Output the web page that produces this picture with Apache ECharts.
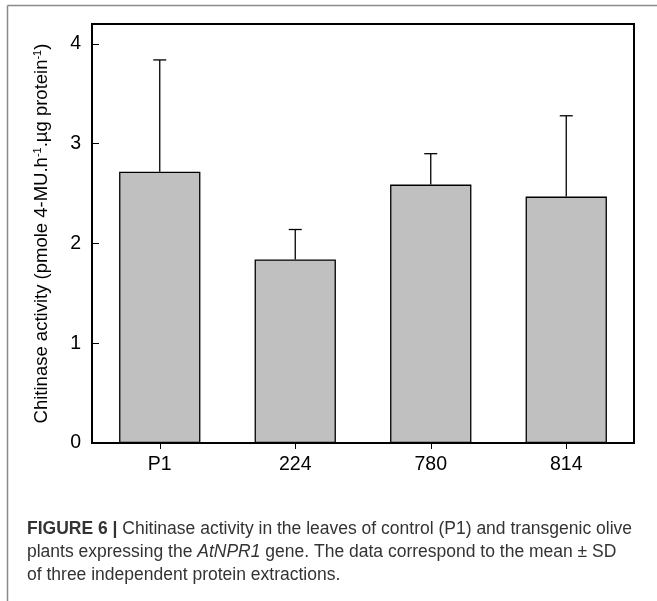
<!DOCTYPE html>
<html>
<head>
<meta charset="utf-8">
<script src="https://cdn.jsdelivr.net/npm/echarts@6/dist/echarts.min.js"></script>
<style>
html,body{margin:0;padding:0;background:#fff;}
#c{width:657px;height:601px;}
</style>
</head>
<body>
<div id="c"></div>
<script>
var categories = ['P1', '224', '780', '814'];
var means = [2.72, 1.84, 2.59, 2.47];
var sds = [1.12, 0.30, 0.31, 0.81];
var yTicks = [0, 1, 2, 3, 4];

var chart = echarts.init(document.getElementById('c'));
var errData = categories.map(function (c, i) { return [i, means[i], means[i] + sds[i]]; });
var capFont = '17.5px Liberation Sans, Arial, sans-serif';

chart.setOption({
  animation: false,
  backgroundColor: '#fff',
  textStyle: { fontFamily: 'Liberation Sans, Arial, sans-serif' },
  grid: { left: 92, top: 24, right: 23, bottom: 158, show: true, borderColor: '#000', borderWidth: 2 },
  xAxis: {
    type: 'category',
    data: categories,
    axisLine: { lineStyle: { color: '#000', width: 2 } },
    axisTick: { show: true, alignWithLabel: true, length: 6, lineStyle: { color: '#000', width: 1 } },
    axisLabel: { color: '#000', fontSize: 19.5, margin: 12 }
  },
  yAxis: {
    type: 'value',
    min: 0, max: 4.2, interval: 1,
    name: 'Chitinase activity (pmole 4-MU.h{s|-1}.µg protein{s|-1})',
    nameLocation: 'middle',
    nameGap: 41,
    nameTextStyle: { color: '#000', fontSize: 18.5, rich: { s: { fontSize: 11, verticalAlign: 'top', lineHeight: 11 } } },
    splitLine: { show: false },
    axisLine: { show: true, lineStyle: { color: '#000', width: 2 } },
    axisTick: { show: true, inside: true, length: 7, lineStyle: { color: '#000', width: 1 } },
    axisLabel: { color: '#000', fontSize: 19.5, margin: 11, showMaxLabel: false,
      formatter: function (v) { return yTicks.indexOf(v) >= 0 ? String(v) : ''; } }
  },
  series: [
    {
      type: 'bar',
      data: means,
      barWidth: '60%',
      itemStyle: { color: '#c0c0c0', borderColor: '#000', borderWidth: 1.3 }
    },
    {
      type: 'custom',
      data: errData,
      z: 1,
      renderItem: function (params, api) {
        var x = api.value(0);
        var lo = api.coord([x, api.value(1)]);
        var hi = api.coord([x, api.value(2)]);
        var hw = 6.5;
        return {
          type: 'group',
          children: [
            { type: 'line', shape: { x1: lo[0], y1: lo[1], x2: hi[0], y2: hi[1] }, style: { stroke: '#000', lineWidth: 1.3 } },
            { type: 'line', shape: { x1: hi[0] - hw, y1: hi[1], x2: hi[0] + hw, y2: hi[1] }, style: { stroke: '#000', lineWidth: 1.3 } }
          ]
        };
      }
    }
  ],
  graphic: [
    { type: 'line', shape: { x1: 7.5, y1: 5.5, x2: 657, y2: 5.5 }, style: { stroke: '#8a8a8a', lineWidth: 1.5 } },
    { type: 'line', shape: { x1: 7.5, y1: 5.5, x2: 7.5, y2: 601 }, style: { stroke: '#8a8a8a', lineWidth: 1.5 } },
    { type: 'text', left: 27, top: 520, style: {
        text: '{b|FIGURE 6 |} Chitinase activity in the leaves of control (P1) and transgenic olive',
        fill: '#333', font: capFont,
        rich: { b: { fontWeight: 'bold', fontSize: 17.5, fill: '#333', fontFamily: 'Liberation Sans' } } } },
    { type: 'text', left: 27, top: 543, style: {
        text: 'plants expressing the {i|AtNPR1} gene. The data correspond to the mean ± SD',
        fill: '#333', font: capFont,
        rich: { i: { fontStyle: 'italic', fontSize: 17.5, fill: '#333', fontFamily: 'Liberation Sans' } } } },
    { type: 'text', left: 27, top: 566, style: {
        text: 'of three independent protein extractions.',
        fill: '#333', font: capFont } }
  ]
});
</script>
</body>
</html>
